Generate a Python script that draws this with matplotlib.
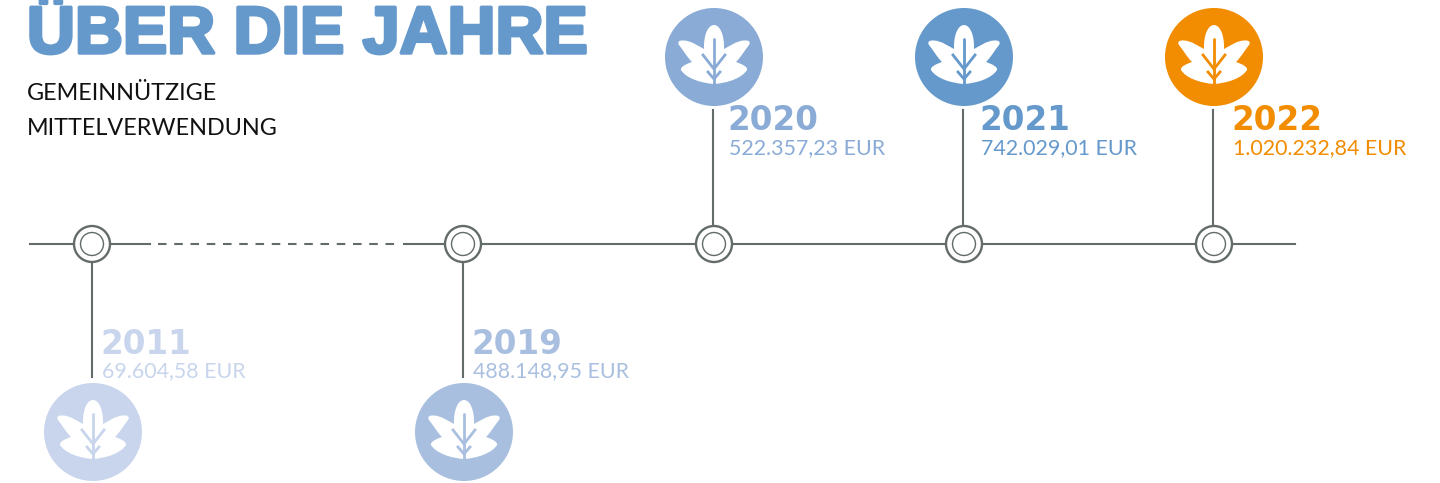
import matplotlib
matplotlib.use("Agg")
import matplotlib.pyplot as plt
import matplotlib.patheffects as pe
from matplotlib.patches import Circle, PathPatch
from matplotlib.path import Path

years = ["2011", "2019", "2020", "2021", "2022"]
amounts = ["69.604,58 EUR", "488.148,95 EUR", "522.357,23 EUR", "742.029,01 EUR", "1.020.232,84 EUR"]
title = "ÜBER DIE JAHRE"
subtitle = ["GEMEINNÜTZIGE", "MITTELVERWENDUNG"]

colors = ["#c8d5ec", "#a9bfe0", "#8aabd6", "#6598cb", "#f28c00"]
node_x = [92, 463, 714, 964, 1214]
below = [True, True, False, False, False]
text_x = [102, 473, 729, 981, 1233]
LINE = "#636b6b"
AXIS_Y = 244


def half_leaf(s):
    # one side of the leaf, s=-1 left, s=1 right, coordinates in px around the centre
    return [
        (0, -32), (s * 6, -32), (s * 10.5, -22), (s * 10, -8),
        (s * 16, -11), (s * 22, -16), (s * 30, -16.5),
        (s * 35, -17), (s * 37, -15), (s * 35, -12),
        (s * 31, -7), (s * 27, 0), (s * 22, 5),
        (s * 28, 7), (s * 34, 10), (s * 33, 13),
        (s * 28, 21), (s * 14, 26), (0, 27),
    ]


def leaf_path(cx, cy):
    right = half_leaf(1)
    left = half_leaf(-1)[::-1]
    pts = right + left[1:]
    codes = [Path.MOVETO] + [Path.CURVE4] * (len(pts) - 1)
    return Path([(cx + x, cy + y) for x, y in pts], codes)


def draw_badge(ax, cx, cy, color):
    ax.add_patch(Circle((cx, cy), 49, fc=color, ec="none", zorder=3))
    ax.add_patch(PathPatch(leaf_path(cx, cy), fc="white", ec="none", zorder=4))
    # stem and the two chevrons of the leaf
    ax.plot([cx, cx], [cy - 18, cy + 27], color=color, lw=2, zorder=5, solid_capstyle="round")
    ax.plot([cx - 11, cx, cx + 11], [cy - 2, cy + 12, cy - 2], color=color, lw=2, zorder=5)
    ax.plot([cx - 6, cx, cx + 6], [cy + 15, cy + 22, cy + 15], color=color, lw=2, zorder=5)


fig = plt.figure(figsize=(14.4, 4.83), dpi=100)
ax = fig.add_axes([0, 0, 1, 1])
ax.set_xlim(0, 1440)
ax.set_ylim(483, 0)
ax.axis("off")

# timeline
ax.plot([30, 150], [AXIS_Y, AXIS_Y], color=LINE, lw=1.5, zorder=1)
ax.plot([158, 395], [AXIS_Y, AXIS_Y], color=LINE, lw=1.5, zorder=1, dashes=(4.1, 3.7))
ax.plot([404, 1295], [AXIS_Y, AXIS_Y], color=LINE, lw=1.5, zorder=1)

for x, year, amount, color, down, tx in zip(node_x, years, amounts, colors, below, text_x):
    ax.add_patch(Circle((x, AXIS_Y), 18, fc="white", ec=LINE, lw=1.7, zorder=2))
    ax.add_patch(Circle((x, AXIS_Y), 11.5, fc="white", ec=LINE, lw=1, zorder=2))
    if down:
        ax.plot([x - 0.5, x - 0.5], [AXIS_Y + 18, 377], color=LINE, lw=1.5, zorder=1)
        draw_badge(ax, x + 1, 432, color)
        year_y, amount_y = 354, 377
    else:
        ax.plot([x - 1, x - 1], [110, AXIS_Y - 18], color=LINE, lw=1.5, zorder=1)
        draw_badge(ax, x, 57, color)
        year_y, amount_y = 130, 154
    ax.text(tx - 1.5, year_y, year, color=color, family="DejaVu Sans", fontweight="bold",
            fontsize=23.5, va="baseline", ha="left")
    ax.text(tx, amount_y, amount, color=color, family="Lato", fontweight="normal",
            fontsize=15.4, va="baseline", ha="left")

ax.text(27, 53, title, color="#6598cb", family="Liberation Sans", fontweight="bold",
        fontsize=47.8, va="baseline", ha="left",
        path_effects=[pe.withStroke(linewidth=2.5, foreground="#6598cb")])
ax.text(27, 100, subtitle[0], color="#111111", family="Lato", fontweight="normal", fontsize=16.8, va="baseline")
ax.text(27, 135, subtitle[1], color="#111111", family="Lato", fontweight="normal", fontsize=16.8, va="baseline")

fig.savefig("out.png", dpi=100)
